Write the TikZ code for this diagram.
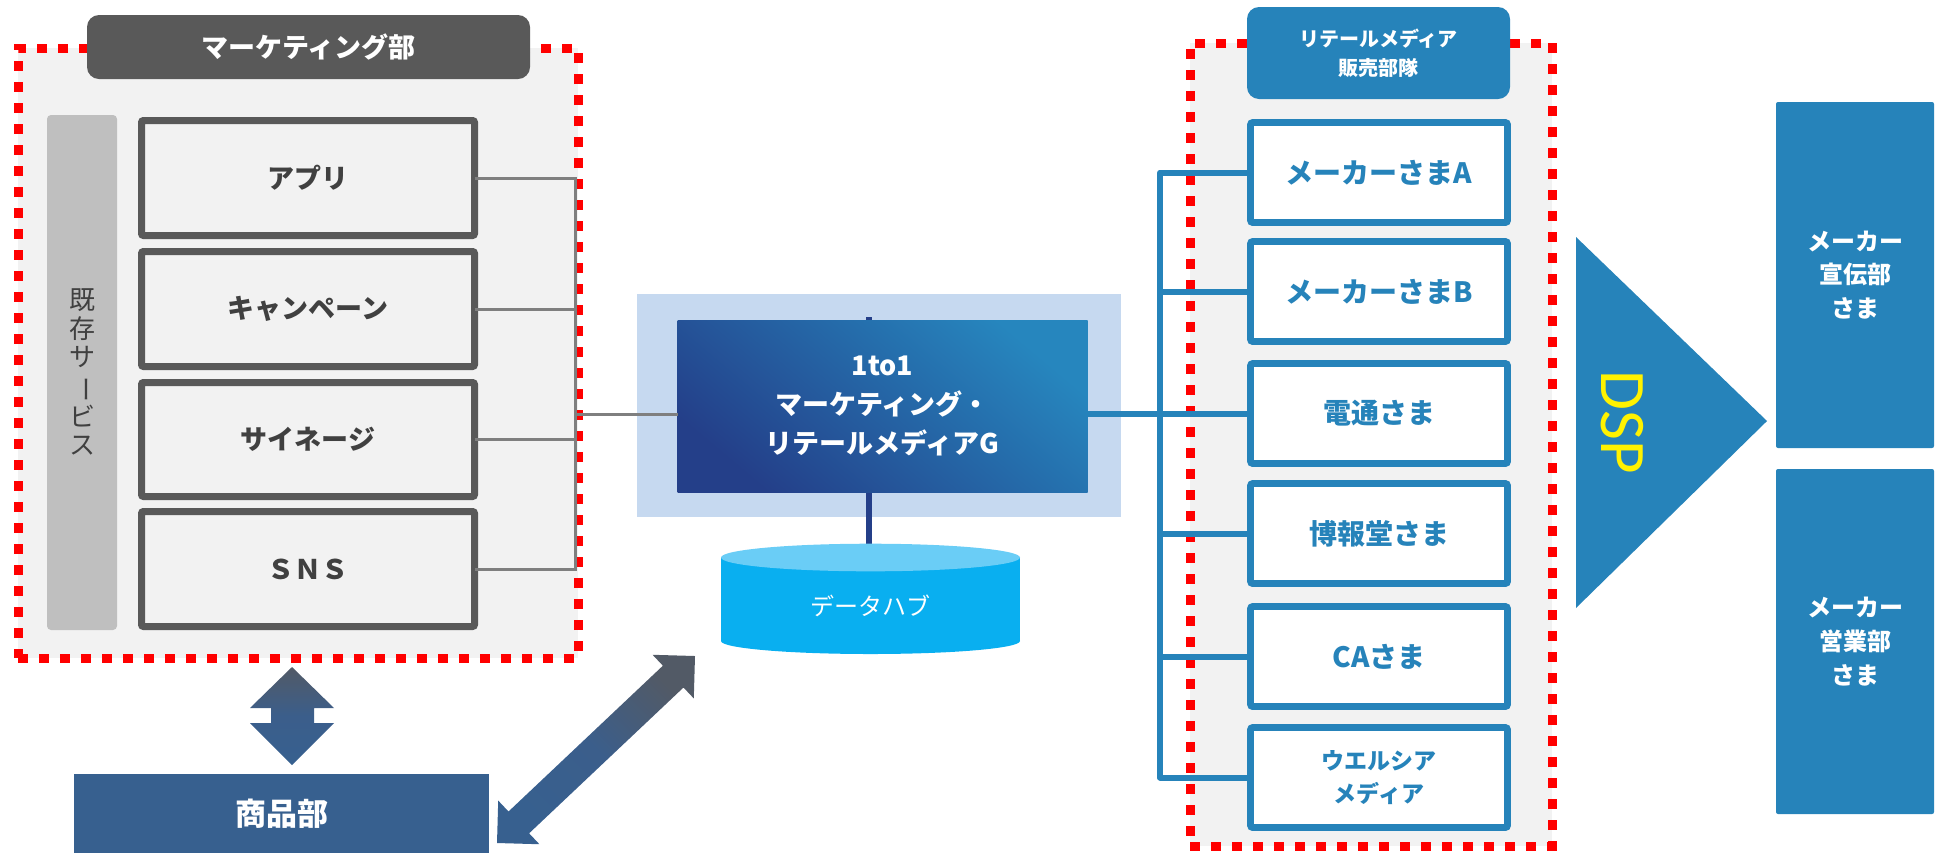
\documentclass[tikz,border=0pt]{standalone}
\usepackage{fontspec}
\setmainfont{Noto Sans CJK JP}
\newfontfamily\dspfont{Carlito}
\usetikzlibrary{calc}
\definecolor{panelgray}{HTML}{F2F2F2}
\definecolor{hdrgray}{HTML}{595959}
\definecolor{bargray}{HTML}{BFBFBF}
\definecolor{txtgray}{HTML}{404040}
\definecolor{linegray}{HTML}{7F7F7F}
\definecolor{rmblue}{HTML}{2683BA}
\definecolor{navy}{HTML}{243F89}
\definecolor{corelight}{HTML}{2686BE}
\definecolor{lightblue}{HTML}{C6D9F0}
\definecolor{cyltop}{HTML}{6ACDF6}
\definecolor{cylbody}{HTML}{09AFF0}
\definecolor{steel}{HTML}{37608F}
\definecolor{steelmid}{HTML}{3B5E8B}
\definecolor{arrowgray}{HTML}{525A66}
\pgfdeclarelayer{bg}
\pgfsetlayers{bg,main}
\begin{document}
\begin{tikzpicture}[x=0.5pt,y=-0.5pt,
  every node/.style={inner sep=0pt,outer sep=0pt},
  redpanel/.style={fill=panelgray,draw=red,line width=4.5pt,dash pattern=on 5pt off 5.5pt},
  mkthdr/.style={fill=hdrgray,rounded corners=6pt,text=white,font=\bfseries\fontsize{13.5pt}{16pt}\selectfont},
  rmhdr/.style={fill=rmblue,rounded corners=6pt,text=white,align=center,font=\bfseries\fontsize{10pt}{14.5pt}\selectfont},
  svcbox/.style={draw=hdrgray,line width=3.5pt,fill=panelgray,rounded corners=1pt,text=txtgray,
    minimum width=166.5pt,minimum height=57.5pt,font=\bfseries\fontsize{13.5pt}{16pt}\selectfont},
  rmbox/.style={draw=rmblue,line width=3.3pt,fill=white,rounded corners=1pt,text=rmblue,align=center,
    minimum width=128.5pt,minimum height=50pt,font=\bfseries\fontsize{14pt}{17pt}\selectfont},
  custbox/.style={fill=rmblue,rounded corners=1pt,text=white,align=center,minimum width=79pt,
    font=\bfseries\fontsize{12pt}{16.8pt}\selectfont},
  graylink/.style={draw=linegray,line width=1.5pt},
  bluelink/.style={draw=rmblue,line width=3pt,line join=round},
  navylink/.style={draw=navy,line width=3pt},
]
\useasboundingbox (0,0) rectangle (1937,853);

% ---------------- left panel ----------------
\node[redpanel,minimum width=280pt,minimum height=305pt] (mkt) at (298,353) {};
\node[mkthdr,minimum width=221.5pt,minimum height=32pt] (mkthead) at (308.5,47) {マーケティング部};
\node[fill=bargray,rounded corners=2pt,minimum width=35pt,minimum height=257.5pt] (bar) at (82,372.5) {};
\node[text=txtgray,align=center,font=\fontsize{13pt}{14.3pt}\selectfont] (kizon) at (82,372)
  {既\\存\\サ\\\rotatebox[origin=c]{-90}{ー}\\ビ\\ス};
\node[svcbox] (app) at (308,178) {アプリ};
\node[svcbox] (camp) at (308,309) {キャンペーン};
\node[svcbox,minimum height=57pt] (sign) at (308,439.5) {サイネージ};
\node[svcbox] (sns) at (308,569) {ＳＮＳ};

\coordinate (lbtop) at (575,178);
\coordinate (lbbot) at (575,569);
\coordinate (lbmid) at (575,414);
\draw[graylink] (app.east) -- (app.east -| lbtop) -- (lbbot) -- (sns.east);
\draw[graylink] (camp.east) -- (camp.east -| lbtop);
\draw[graylink] (sign.east) -- (sign.east -| lbtop);

% ---------------- centre ----------------
\begin{pgfonlayer}{bg}
\fill[lightblue] (637,294) rectangle (1121,517);
\end{pgfonlayer}
\node[minimum width=205pt,minimum height=86pt,shading=axis,top color=corelight,bottom color=navy,shading angle=-40,
      text=white,align=center,font=\bfseries\fontsize{13.5pt}{19.5pt}\selectfont] (core) at (882.5,406)
  {1to1\\マーケティング・\\リテールメディアG};

\fill[cylbody] (721,557.5) rectangle (1020,641);
\fill[cylbody] (870.5,641) ellipse [x radius=74.75pt, y radius=6.5pt];
\fill[cyltop] (870.5,557.5) ellipse [x radius=74.75pt, y radius=6.9pt];
\node[text=white,font=\fontsize{12pt}{14pt}\selectfont] (hub) at (870.5,606) {データハブ};
\coordinate (hubtop) at (869,545);
\begin{pgfonlayer}{bg}
\draw[navylink] (hubtop) -- ([yshift=1.5pt]core.north -| hubtop);
\end{pgfonlayer}

\draw[graylink] (lbmid) -- (lbmid -| core.west);

% ---------------- right panel ----------------
\node[redpanel,minimum width=181pt,minimum height=401.5pt] (rm) at (1371,444.5) {};
\node[rmhdr,minimum width=131.5pt,minimum height=46pt] (rmhead) at (1378.5,53) {リテールメディア\\販売部隊};
\node[rmbox] (ma) at (1379,172.5) {メーカーさまA};
\node[rmbox] (mb) at (1379,291.5) {メーカーさまB};
\node[rmbox] (dentsu) at (1379,413.5) {電通さま};
\node[rmbox] (hakuhodo) at (1379,533.5) {博報堂さま};
\node[rmbox] (ca) at (1379,656.5) {CAさま};
\node[rmbox,font=\bfseries\fontsize{11.5pt}{16.5pt}\selectfont] (welcia) at (1379,777.5) {ウエルシア\\メディア};

\coordinate (rbtop) at (1160,172.5);
\coordinate (rbmid) at (1160,414);
\draw[bluelink] (ma.west) -- (ma.west -| rbtop) -- (welcia.west -| rbtop) -- (welcia.west);
\draw[bluelink] (mb.west) -- (mb.west -| rbtop);
\draw[bluelink] (dentsu.west) -- (dentsu.west -| rbtop);
\draw[bluelink] (hakuhodo.west) -- (hakuhodo.west -| rbtop);
\draw[bluelink] (ca.west) -- (ca.west -| rbtop);
\draw[bluelink] (core.east |- rbmid) -- (rbmid);

% DSP triangle
\fill[rmblue] (1576,237) -- (1767,421) -- (1576,608) -- cycle;
\node[rotate=-90,text=yellow,font=\dspfont\fontsize{32.5pt}{36pt}\selectfont] (dsp) at (1622,422) {DSP};

\node[custbox,minimum height=173pt] (adv) at (1855,275) {メーカー\\宣伝部\\さま};
\node[custbox,minimum height=172.5pt] (sales) at (1855,641.5) {メーカー\\営業部\\さま};

% ---------------- bottom ----------------
\node[fill=steel,minimum width=207.5pt,minimum height=39.5pt,text=white,
      font=\bfseries\fontsize{15.5pt}{18pt}\selectfont] (shohin) at (281.5,813.5) {商品部};

\path[top color=arrowgray,bottom color=steel,middle color=steelmid]
  (292,667) -- (334,708) -- (314,708) -- (314,723) -- (334,723) -- (292,765)
  -- (250,723) -- (271,723) -- (271,708) -- (250,708) -- cycle;

\coordinate (dA) at (497,843);
\coordinate (dB) at (695,656);
\coordinate (pA) at ($(dA)!15pt!(dB)$);
\coordinate (pB) at ($(dB)!15pt!(dA)$);
\path[shading=axis,top color=arrowgray,bottom color=steel,middle color=steelmid,shading angle=-45]
  (dA) -- ($(pA)!15pt!90:(dB)$) -- ($(pA)!7.5pt!90:(dB)$) -- ($(pB)!7.5pt!-90:(dA)$)
  -- ($(pB)!15pt!-90:(dA)$) -- (dB) -- ($(pB)!15pt!90:(dA)$) -- ($(pB)!7.5pt!90:(dA)$)
  -- ($(pA)!7.5pt!-90:(dB)$) -- ($(pA)!15pt!-90:(dB)$) -- cycle;
\end{tikzpicture}
\end{document}
